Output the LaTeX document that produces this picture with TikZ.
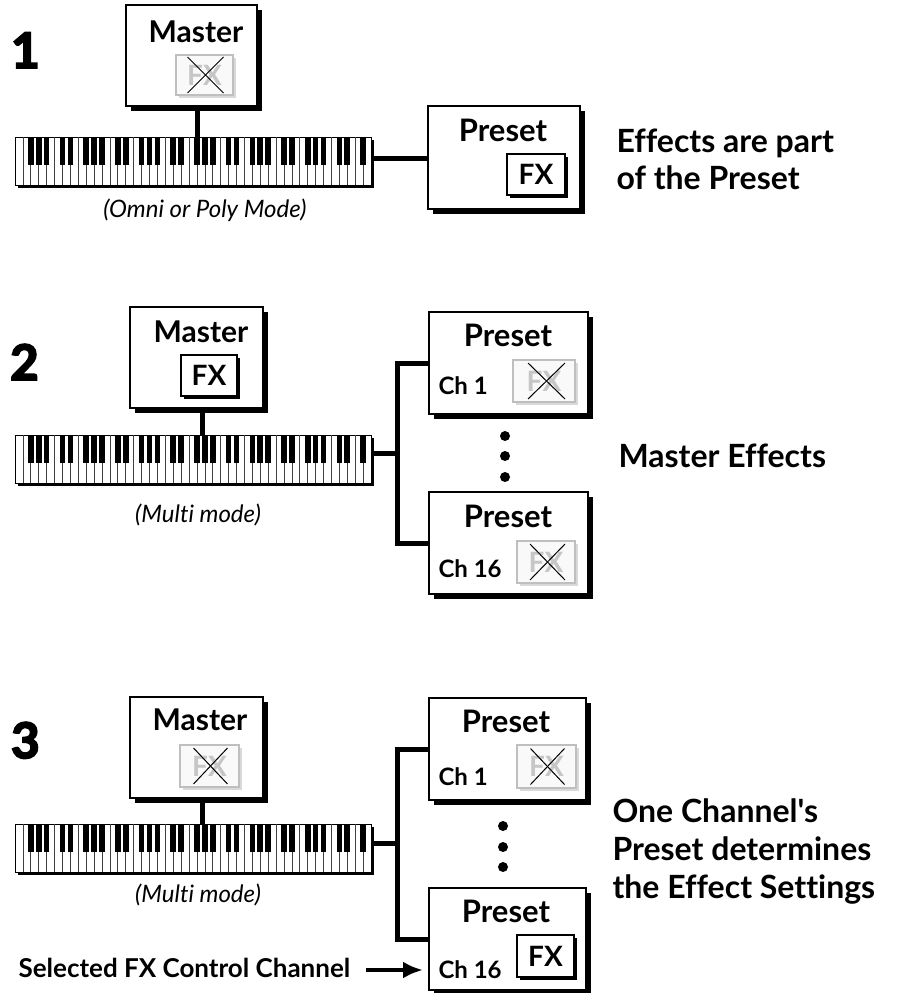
\documentclass[tikz,border=0pt]{standalone}
\usepackage{fontspec}
\setmainfont{Lato}[Ligatures={TeXOff,CommonOff}]
\newfontfamily\numfont{Lato}[BoldFeatures={FakeBold=4}]
\usetikzlibrary{shadows,calc,arrows.meta}
\newcommand\drawkeys[1]{%
  \foreach \i in {1,...,44}
    \draw[keyline] ($(#1.north west)+(\i*7.911,0)$) -- ($(#1.south west)+(\i*7.911,0)$);
  \foreach \k in {0,...,6}{
    \foreach \j in {2,3,4,6,7}{
      \pgfmathtruncatemacro\bk{\k*7+\j}
      \ifnum\bk<45
        \fill ($(#1.north west)+(\bk*7.911-2.8,0)$) rectangle ++(5.6,28);
      \fi
    }
  }
}
\begin{document}
\begin{tikzpicture}[x=1pt,y=-1pt,
  bigbox/.style={draw, line width=1.4pt, fill=white, inner sep=0pt, outer sep=0pt, anchor=north west,
    drop shadow={shadow xshift=5pt, shadow yshift=-5pt, opacity=1, fill=black}},
  fxbox/.style={draw, line width=1.2pt, fill=white, inner sep=0pt, outer sep=0pt, anchor=north west,
    font=\bfseries\fontsize{28}{28}\selectfont,
    drop shadow={shadow xshift=3pt, shadow yshift=-3pt, opacity=1, fill=black}},
  offbox/.style={draw=gray!50, line width=1.2pt, fill=gray!5, inner sep=0pt, outer sep=0pt, anchor=north west,
    text=gray!45, font=\bfseries\fontsize{28}{28}\selectfont,
    drop shadow={shadow xshift=3pt, shadow yshift=-3pt, opacity=1, fill=gray!30}},
  kbd/.style={draw, line width=1pt, fill=white, inner sep=0pt, outer sep=0pt, anchor=north west,
    minimum width=356pt, minimum height=48pt,
    drop shadow={shadow xshift=3pt, shadow yshift=-3pt, opacity=1, fill=black}},
  conn/.style={line width=5pt},
  cross/.style={line width=1pt},
  keyline/.style={line width=0.7pt, black!75},
  master/.style={font=\bfseries\fontsize{30}{30}\selectfont, anchor=base},
  preset/.style={font=\bfseries\fontsize{31}{31}\selectfont, anchor=base},
  chan/.style={font=\bfseries\fontsize{24}{24}\selectfont, anchor=base west},
  caption/.style={font=\bfseries\fontsize{32}{32}\selectfont, anchor=base west},
  mode/.style={font=\itshape\fontsize{24}{24}\selectfont, anchor=base},
  num/.style={font=\numfont\bfseries\fontsize{49}{49}\selectfont, anchor=base west, inner sep=0pt},
  dot/.style={circle, fill, inner sep=0pt, minimum size=10pt},
  arr/.style={line width=4pt, -{Latex[length=20pt,width=17pt]}}
]
\useasboundingbox (0,0) rectangle (898,993);

% ---------------- Section 1 ----------------
\node[num] (n1) at (11,68) {1};
\node[bigbox, minimum width=131pt, minimum height=101pt] (m1) at (126,5) {};
\node[master] (m1t) at (196,42) {Master};
\node[offbox, minimum width=57pt, minimum height=40pt] (x1) at (176,55) {FX};
\draw[cross] ($(x1.center)+(-17,-18)$) -- ($(x1.center)+(19,18)$);
\draw[cross] ($(x1.center)+(19,-18)$) -- ($(x1.center)+(-17,18)$);
\node[kbd] (kb1) at (15,137) {};
\drawkeys{kb1}
\node[mode] (md1) at (205,217) {(Omni or Poly Mode)};
\node[bigbox, minimum width=152pt, minimum height=103pt] (p1) at (428,106) {};
\node[preset] (p1t) at (503,141) {Preset};
\node[fxbox, minimum width=58pt, minimum height=41pt] (f1) at (507,154) {FX};
\node[caption] (c1a) at (613,152) {Effects are part};
\node[caption] (c1b) at (613,189) {of the Preset};
\draw[conn] ([xshift=5.5pt]m1.south) -- ([xshift=5.5pt]m1.south |- kb1.north);
\draw[conn] ([yshift=3pt]kb1.east) -- ([yshift=3pt]kb1.east -| p1.west);

% ---------------- Section 2 ----------------
\node[num] (n2) at (10,380) {2};
\node[bigbox, minimum width=133pt, minimum height=101pt] (m2) at (130,307) {};
\node[master] (m2t) at (201,342) {Master};
\node[fxbox, minimum width=56pt, minimum height=41pt] (f2) at (181,355) {FX};
\node[kbd] (kb2) at (15,435) {};
\drawkeys{kb2}
\node[mode] (md2) at (198,522) {(Multi mode)};
\node[bigbox, minimum width=159pt, minimum height=102pt] (p2a) at (429,312) {};
\node[preset] (p2at) at (508,346) {Preset};
\node[chan] (ch2a) at (435,394) {Ch 1};
\node[offbox, minimum width=62pt, minimum height=42pt] (x2a) at (513,360) {FX};
\draw[cross] ($(x2a.center)+(-16,-18)$) -- ($(x2a.center)+(21,18)$);
\draw[cross] ($(x2a.center)+(21,-18)$) -- ($(x2a.center)+(-16,18)$);
\node[dot] (d2a) at (505,436) {};
\node[dot] (d2b) at (505,456) {};
\node[dot] (d2c) at (505,477) {};
\node[bigbox, minimum width=159pt, minimum height=102pt] (p2b) at (429,492) {};
\node[preset] (p2bt) at (508,527) {Preset};
\node[chan] (ch2b) at (435,577) {Ch 16};
\node[offbox, minimum width=58pt, minimum height=42pt] (x2b) at (517,541) {FX};
\draw[cross] ($(x2b.center)+(-16,-18)$) -- ($(x2b.center)+(19,18)$);
\draw[cross] ($(x2b.center)+(19,-18)$) -- ($(x2b.center)+(-16,18)$);
\node[caption] (c2) at (615,467) {Master Effects};
\coordinate (j2) at (397.5,453);
\draw[conn] ([xshift=5.5pt]m2.south) -- ([xshift=5.5pt]m2.south |- kb2.north);
\draw[conn] (kb2.east |- j2) -- (j2);
\draw[conn] (p2a.west) -| (j2) |- (p2b.west);

% ---------------- Section 3 ----------------
\node[num] (n3) at (11,758) {3};
\node[bigbox, minimum width=133pt, minimum height=101pt] (m3) at (130,697) {};
\node[master] (m3t) at (200,730) {Master};
\node[offbox, minimum width=59pt, minimum height=42pt] (x3) at (180,745) {FX};
\draw[cross] ($(x3.center)+(-16,-18)$) -- ($(x3.center)+(18,18)$);
\draw[cross] ($(x3.center)+(18,-18)$) -- ($(x3.center)+(-16,18)$);
\node[kbd] (kb3) at (15,824) {};
\drawkeys{kb3}
\node[mode] (md3) at (198,902) {(Multi mode)};
\node[bigbox, minimum width=157pt, minimum height=102pt] (p3a) at (429,698) {};
\node[preset] (p3at) at (506,732) {Preset};
\node[chan] (ch3a) at (435,785) {Ch 1};
\node[offbox, minimum width=59pt, minimum height=43pt] (x3a) at (517,745) {FX};
\draw[cross] ($(x3a.center)+(-16,-18)$) -- ($(x3a.center)+(18,18)$);
\draw[cross] ($(x3a.center)+(18,-18)$) -- ($(x3a.center)+(-16,18)$);
\node[dot] (d3a) at (503,826) {};
\node[dot] (d3b) at (503,847) {};
\node[dot] (d3c) at (503,867) {};
\node[bigbox, minimum width=157pt, minimum height=102pt] (p3b) at (429,888) {};
\node[preset] (p3bt) at (506,922) {Preset};
\node[chan] (ch3b) at (435,978) {Ch 16};
\node[fxbox, minimum width=57pt, minimum height=42pt] (f3) at (517,935) {FX};
\node[caption] (c3a) at (609,822) {One Channel's};
\node[caption] (c3b) at (609,860) {Preset determines};
\node[caption] (c3c) at (609,898) {the Effect Settings};
\node[chan, font=\bfseries\fontsize{26}{26}\selectfont] (sel) at (15,977) {Selected FX Control Channel};
\coordinate (j3) at (397.5,843);
\draw[conn] ([xshift=5.5pt]m3.south) -- ([xshift=5.5pt]m3.south |- kb3.north);
\draw[conn] (kb3.east |- j3) -- (j3);
\draw[conn] (p3a.west) -| (j3) |- (p3b.west);
\coordinate (a0) at (366,970);
\draw[arr] (a0) -- ([xshift=-6pt]a0 -| p3b.west);
\end{tikzpicture}
\end{document}
